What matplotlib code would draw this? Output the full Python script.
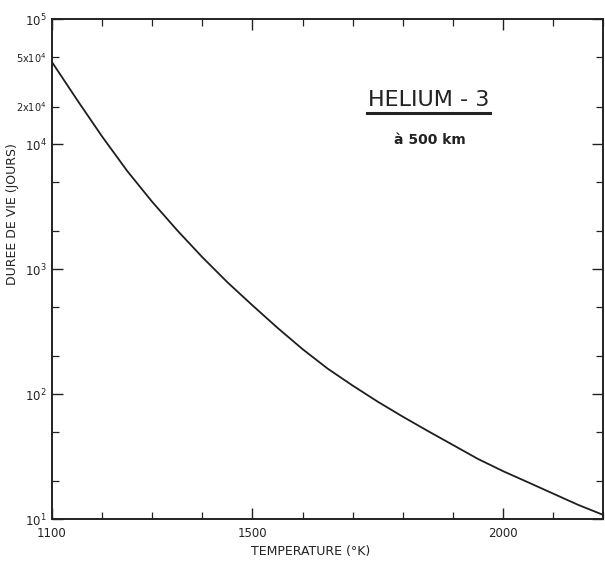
import matplotlib
matplotlib.use("Agg")
import matplotlib.pyplot as plt
from matplotlib.ticker import FixedLocator, FixedFormatter, NullFormatter
import numpy as np

# lifetime of He-3 at 500 km vs exospheric temperature
temperature = [1100, 1150, 1200, 1250, 1300, 1350, 1400, 1450, 1500, 1550, 1600,
               1650, 1700, 1750, 1800, 1850, 1900, 1950, 2000, 2050, 2100, 2150, 2200]
duree_jours = [45300, 22600, 11500, 6100, 3450, 2040, 1245, 785, 513, 339, 229,
               160, 117, 87, 66, 50.7, 39.2, 30.3, 24.2, 19.7, 16.0, 13.0, 10.8]

x_major = [1100, 1500, 2000]
x_major_labels = ["1100", "1500", "2000"]
y_major = [1e1, 1e2, 1e3, 1e4, 1e5]
y_major_labels = [r"$10^1$", r"$10^2$", r"$10^3$", r"$10^4$", r"$10^5$"]
y_minor = [m * 10.0 ** d for d in range(1, 5) for m in (2, 5)]
y_minor_labels = ["5x$10^4$" if v == 5e4 else "2x$10^4$" if v == 2e4 else "" for v in y_minor]

fig = plt.figure(figsize=(6.05, 5.63), dpi=100)
ax = fig.add_axes([0.086, 0.078, 0.911, 0.888])

ax.plot(temperature, duree_jours, color="#1e1e1e", lw=1.3)

ax.set_yscale("log")
ax.set_xlim(1100, 2200)
ax.set_ylim(10, 1e5)

ax.xaxis.set_major_locator(FixedLocator(x_major))
ax.xaxis.set_major_formatter(FixedFormatter(x_major_labels))
ax.xaxis.set_minor_locator(FixedLocator(np.arange(1100, 2201, 100)))
ax.xaxis.set_minor_formatter(NullFormatter())

ax.yaxis.set_major_locator(FixedLocator(y_major))
ax.yaxis.set_major_formatter(FixedFormatter(y_major_labels))
ax.yaxis.set_minor_locator(FixedLocator(y_minor))
ax.yaxis.set_minor_formatter(FixedFormatter(y_minor_labels))

ax.tick_params(which="both", direction="in", top=True, right=True,
               color="#222222", labelcolor="#222222")
ax.tick_params(which="major", length=8, width=1.0, labelsize=8.5)
ax.tick_params(which="minor", length=5, width=0.9, labelsize=7)
ax.tick_params(axis="y", which="both", pad=4)
ax.tick_params(axis="x", which="both", pad=6)

for s in ax.spines.values():
    s.set_linewidth(1.4)
    s.set_color("#222222")

ax.set_xlabel("TEMPERATURE (°K)", fontsize=9, color="#222222")
ax.set_ylabel("DUREE DE VIE (JOURS)", fontsize=9, color="#222222")
ax.yaxis.set_label_coords(-0.06, 0.61)
ax.xaxis.set_label_coords(0.47, -0.052)

ax.text(0.683, 0.838, "HELIUM - 3", transform=ax.transAxes, fontsize=16,
        ha="center", va="center", color="#222222")
ax.plot([0.572, 0.795], [0.812, 0.812], transform=ax.transAxes,
        color="#222222", lw=2.2, clip_on=False)
ax.text(0.686, 0.758, "à 500 km", transform=ax.transAxes, fontsize=10,
        fontweight="bold", ha="center", va="center", color="#222222")

fig.savefig("out.png", dpi=100, facecolor="white")
